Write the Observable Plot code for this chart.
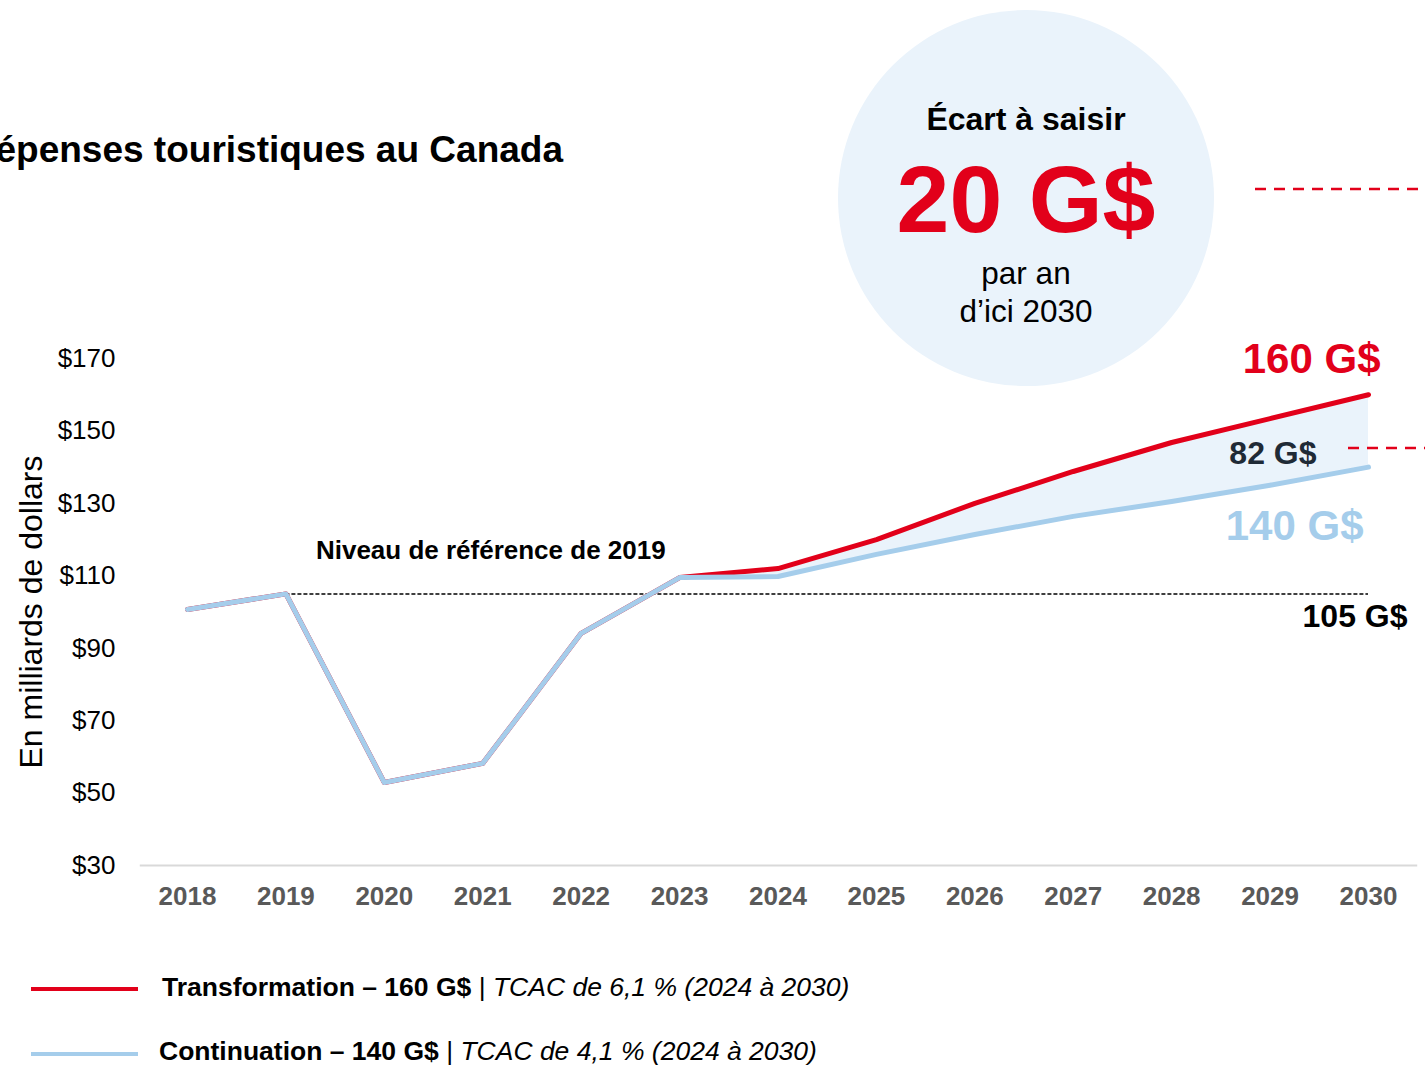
<!DOCTYPE html>
<html>
<head>
<meta charset="utf-8">
<script src="https://cdn.jsdelivr.net/npm/d3@7"></script>
<script src="https://cdn.jsdelivr.net/npm/@observablehq/plot@0.6"></script>
<style>
  html, body { margin: 0; padding: 0; background: #fff; }
  #chart { position: relative; width: 1425px; height: 1066px; overflow: hidden; font-family: "Liberation Sans", Arial, sans-serif; }
  #chart svg { position: absolute; left: 0; top: 0; overflow: visible; }
</style>
</head>
<body>
<div id="chart"></div>
<script>
// ---- data ----
const years = [2018, 2019, 2020, 2021, 2022, 2023, 2024, 2025, 2026, 2027, 2028, 2029, 2030];
const historyYears = [2018, 2019, 2020, 2021, 2022, 2023];
const historyValues = [100.7, 105.0, 52.9, 58.2, 94.1, 109.5];
const forecastYears = [2023, 2024, 2025, 2026, 2027, 2028, 2029, 2030];
const transformationValues = [109.5, 112.0, 120.0, 130.0, 138.8, 146.8, 153.4, 160.0];
const continuationValues = [109.5, 109.8, 115.9, 121.4, 126.4, 130.5, 135.0, 140.0];
const baseline2019 = 105;
const gapLabel = "82 G$";
const yTicks = [30, 50, 70, 90, 110, 130, 150, 170];

const RED = "#E2001A";
const BLUE = "#A5CDEB";
const FILL = "#EAF3FB";

const history = historyYears.map((y, i) => ({year: y, value: historyValues[i]}));
const transformation = history.slice(0, -1).concat(forecastYears.map((y, i) => ({year: y, value: transformationValues[i]})));
const continuation = history.slice(0, -1).concat(forecastYears.map((y, i) => ({year: y, value: continuationValues[i]})));
const band = forecastYears.map((y, i) => ({year: y, lo: continuationValues[i], hi: transformationValues[i]}));

const font = '"Liberation Sans", Arial, sans-serif';

const plot = Plot.plot({
  width: 1425,
  height: 1066,
  marginLeft: 187,
  marginRight: 57,
  marginTop: 358,
  marginBottom: 201,
  style: {fontFamily: font, background: "transparent", overflow: "visible"},
  x: {domain: [2018, 2030], axis: null},
  y: {domain: [30, 170], axis: null},
  marks: [
    Plot.areaY(band, {x: "year", y1: "lo", y2: "hi", fill: FILL}),
    Plot.ruleY([30], {x1: 2017.52, x2: 2030.5, stroke: "#D9D9D9", strokeWidth: 2}),
    Plot.ruleY([baseline2019], {x1: 2019, x2: 2030, stroke: "#000", strokeWidth: 1.5, strokeDasharray: "4,2"}),
    Plot.line(transformation, {x: "year", y: "value", stroke: RED, strokeWidth: 5, strokeLinejoin: "round", strokeLinecap: "round"}),
    Plot.line(continuation, {x: "year", y: "value", stroke: BLUE, strokeWidth: 5, strokeLinejoin: "round", strokeLinecap: "round"}),
    Plot.axisY({ticks: yTicks, tickFormat: d => "$" + d, tickSize: 0, tickPadding: 72, fontSize: 26, fill: "#000", textAnchor: "end", label: null}),
    Plot.axisX({ticks: years, tickFormat: d => String(d), tickSize: 0, tickPadding: 21, fontSize: 26, fontWeight: "bold", fill: "#595959", label: null}),
    Plot.text([{year: 2030, value: transformationValues[7]}], {x: "year", y: "value", text: d => d.value + " G$", textAnchor: "end", lineAnchor: "bottom", dx: 12, dy: -22, fill: RED, fontSize: 42, fontWeight: "bold"}),
    Plot.text([{year: 2030, value: continuationValues[7]}], {x: "year", y: "value", text: d => d.value + " G$", textAnchor: "end", lineAnchor: "bottom", dx: -5, dy: 73, fill: BLUE, fontSize: 42, fontWeight: "bold"}),
    Plot.text([{year: 2030, value: baseline2019}], {x: "year", y: "value", text: d => d.value + " G$", textAnchor: "end", lineAnchor: "bottom", dx: 39, dy: 33, fill: "#000", fontSize: 32, fontWeight: "bold"}),
    Plot.text([{year: 2030, value: 150}], {x: "year", y: "value", text: () => gapLabel, textAnchor: "end", lineAnchor: "bottom", dx: -52, dy: 33, fill: "#1F2A36", fontSize: 32, fontWeight: "bold"}),
    Plot.text([{year: 2019, value: baseline2019}], {x: "year", y: "value", text: () => "Niveau de référence de 2019", textAnchor: "start", lineAnchor: "bottom", dx: 30, dy: -35, fill: "#000", fontSize: 26, fontWeight: "bold"})
  ]
});

const chart = document.getElementById("chart");
chart.appendChild(plot);

const svg = d3.select(plot);

// background circle behind everything
const bg = svg.insert("g", ":first-child");
bg.append("circle").attr("cx", 1026).attr("cy", 198).attr("r", 188).attr("fill", FILL);

const ann = svg.append("g").style("font-family", font).attr("text-anchor", "start");
// circle texts
ann.append("text").attr("x", 1026).attr("y", 130).attr("text-anchor", "middle").attr("font-size", 32).attr("font-weight", "bold").attr("fill", "#000").text("Écart à saisir");
ann.append("text").attr("x", 1026).attr("y", 232).attr("text-anchor", "middle").attr("font-size", 95).attr("font-weight", "bold").attr("fill", RED).text("20 G$");
ann.append("text").attr("x", 1026).attr("y", 284).attr("text-anchor", "middle").attr("font-size", 31.5).attr("fill", "#000").text("par an");
ann.append("text").attr("x", 1026).attr("y", 322).attr("text-anchor", "middle").attr("font-size", 31.5).attr("fill", "#000").text("d’ici 2030");

// red dashed connectors
ann.append("line").attr("x1", 1255).attr("x2", 1430).attr("y1", 189).attr("y2", 189).attr("stroke", RED).attr("stroke-width", 2.5).attr("stroke-dasharray", "11,8");
ann.append("line").attr("x1", 1348).attr("x2", 1430).attr("y1", 448).attr("y2", 448).attr("stroke", RED).attr("stroke-width", 2.5).attr("stroke-dasharray", "11,8");

// title (partially cut at left, as in the reference)
ann.append("text").attr("x", 563).attr("y", 162).attr("text-anchor", "end").attr("font-size", 37).attr("font-weight", "bold").attr("fill", "#000").text("Dépenses touristiques au Canada");

// y-axis label
ann.append("text").attr("transform", "translate(42,612) rotate(-90)").attr("text-anchor", "middle").attr("font-size", 32).attr("fill", "#000").text("En milliards de dollars");

// legend
const legend = [
  {color: RED, name: "Transformation – 160 G$", rate: "TCAC de 6,1 % (2024 à 2030)", y: 989, ty: 996, tx: 162},
  {color: BLUE, name: "Continuation – 140 G$", rate: "TCAC de 4,1 % (2024 à 2030)", y: 1054, ty: 1060, tx: 159}
];
legend.forEach(l => {
  ann.append("line").attr("x1", 31).attr("x2", 138).attr("y1", l.y).attr("y2", l.y).attr("stroke", l.color).attr("stroke-width", 4);
  const t = ann.append("text").attr("x", l.tx).attr("y", l.ty).attr("text-anchor", "start").attr("font-size", 26.5).attr("fill", "#000");
  t.append("tspan").attr("font-weight", "bold").text(l.name);
  t.append("tspan").text(" | ");
  t.append("tspan").attr("font-style", "italic").text(l.rate);
});
</script>
</body>
</html>
